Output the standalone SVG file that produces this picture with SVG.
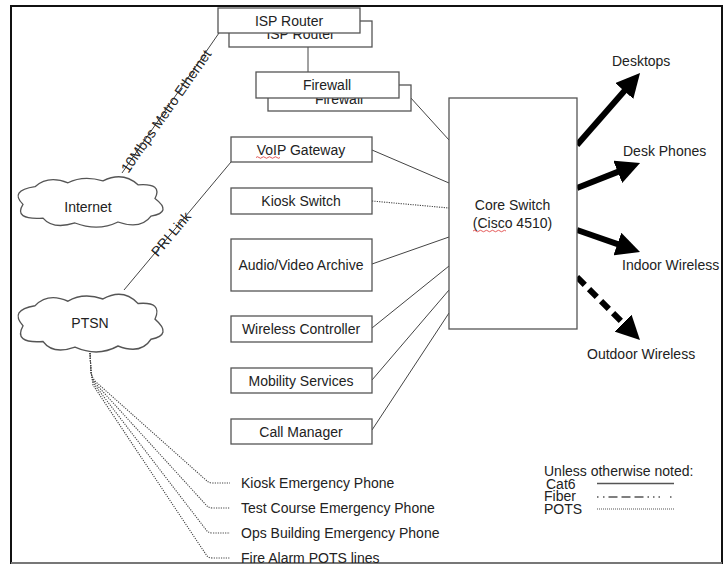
<svg xmlns="http://www.w3.org/2000/svg" width="728" height="565" viewBox="0 0 728 565">
<style>
text{font-family:"Liberation Sans",Arial,sans-serif;font-size:14px;fill:#222}
.c{text-anchor:middle}
.box{fill:#fff;stroke:#555;stroke-width:1.3}
.ln{fill:none;stroke:#444;stroke-width:1}
.dot{fill:none;stroke:#444;stroke-width:1.1;stroke-dasharray:1.2,1.2}
.cloud{fill:#fff;stroke:#555;stroke-width:1.3}
.big{fill:none;stroke:#000;stroke-width:6;marker-end:url(#ah)}
.sq{fill:none;stroke:#d33;stroke-width:0.8}
</style>
<defs>
<marker id="ah" viewBox="0 0 10 10" refX="2" refY="5" markerWidth="4" markerHeight="4" orient="auto" markerUnits="strokeWidth">
<path d="M0,0 L10,5 L0,10 z" fill="#000"/>
</marker>
<path id="cl" d="M22,14 Q35,2 55,10 Q70,2 90,8 Q110,-2 125,12 Q150,10 142,26 Q160,40 138,44 Q128,58 105,50 Q85,60 62,51 Q40,58 30,46 Q0,48 10,32 Q-4,18 22,14 Z"/>
</defs>
<rect x="11" y="6" width="711" height="557" fill="#fff" stroke="#111" stroke-width="2"/>
<line x1="11" y1="563" x2="722" y2="563" stroke="#777" stroke-width="2"/>

<g id="connectors">
<line class="ln" x1="122" y1="173" x2="219" y2="33"/>
<line class="ln" x1="124" y1="290" x2="231" y2="162"/>
<line class="ln" x1="308" y1="47" x2="308" y2="72"/>
<line class="ln" x1="410" y1="97" x2="449" y2="140"/>
<line class="ln" x1="372" y1="150" x2="449" y2="183"/>
<line class="dot" x1="372" y1="201" x2="449" y2="208"/>
<line class="ln" x1="372" y1="264" x2="449" y2="237"/>
<line class="ln" x1="372" y1="328" x2="449" y2="266"/>
<line class="ln" x1="372" y1="380" x2="449" y2="290"/>
<line class="ln" x1="372" y1="430" x2="449" y2="313"/>
<path class="dot" d="M90,353 L91,372 Q92,378 96,382 L207,481 Q209,483 213,483 L230,483"/>
<path class="dot" d="M90,353 L91,372 Q92,378 95,383 L207,506 Q209,508 213,508 L230,508"/>
<path class="dot" d="M90,353 L91,372 Q92,378 94,384 L207,531 Q209,533 213,533 L230,533"/>
<path class="dot" d="M90,353 L91,372 Q92,378 93,385 L207,556 Q209,558 213,558 L230,558"/>
<line class="big" x1="577" y1="145" x2="627.4" y2="87.4"/>
<line class="big" x1="577" y1="188" x2="622.2" y2="170.1"/>
<line class="big" x1="577" y1="230" x2="621.9" y2="245.7"/>
<line class="big" x1="577" y1="277" x2="626.4" y2="326.4" stroke-dasharray="11,6"/>
<text class="c" transform="translate(166,111) rotate(-55)" y="5">10Mbps Metro Ethernet</text>
<text class="c" transform="translate(171,234) rotate(-50)" y="5">PRI Link</text>
</g>

<g id="internet">
<use href="#cl" class="cloud" transform="translate(13,173) scale(1,0.98)"/>
<text class="c" x="88" y="212">Internet</text>
</g>
<g id="ptsn">
<use href="#cl" class="cloud" transform="translate(13,290) scale(1,1.12)"/>
<text class="c" x="90" y="328">PTSN</text>
</g>

<g id="isp-router">
<rect class="box" x="229" y="21" width="143" height="26"/>
<text class="c" x="300.5" y="39">ISP Router</text>
<rect class="box" x="218" y="8" width="142" height="25"/>
<text class="c" x="289" y="26">ISP Router</text>
</g>
<g id="firewall">
<rect class="box" x="268" y="85" width="143" height="26"/>
<text class="c" x="339" y="103.5">Firewall</text>
<rect class="box" x="256" y="72" width="143" height="26"/>
<text class="c" x="327" y="90">Firewall</text>
</g>
<g id="voip-gateway">
<rect class="box" x="231" y="137" width="141" height="25"/>
<text class="c" x="301" y="154.5">VoIP Gateway</text>
<path class="sq" d="M256,157.5 q1.5,-1.5 3,0 t3,0 t3,0 t3,0 t3,0 t3,0 t3,0 t3,0"/>
</g>
<g id="kiosk-switch">
<rect class="box" x="231" y="188" width="141" height="26"/>
<text class="c" x="301" y="206">Kiosk Switch</text>
</g>
<g id="av-archive">
<rect class="box" x="231" y="239" width="141" height="52"/>
<text class="c" x="301" y="270">Audio/Video Archive</text>
</g>
<g id="wireless-controller">
<rect class="box" x="231" y="316" width="141" height="26"/>
<text class="c" x="301" y="334">Wireless Controller</text>
</g>
<g id="mobility-services">
<rect class="box" x="231" y="368" width="141" height="25"/>
<text class="c" x="301" y="385.5">Mobility Services</text>
</g>
<g id="call-manager">
<rect class="box" x="231" y="419" width="141" height="25"/>
<text class="c" x="301" y="436.5">Call Manager</text>
</g>
<g id="core-switch">
<rect class="box" x="449" y="98" width="128" height="231"/>
<text class="c" x="512.5" y="210">Core Switch</text>
<text class="c" x="512.5" y="227.5">(Cisco 4510)</text>
<path class="sq" d="M473,231 q1.5,-1.5 3,0 t3,0 t3,0 t3,0 t3,0 t3,0 t3,0 t3,0 t3,0 t3,0 t3,0"/>
</g>
<g id="desktops"><text x="612" y="65.5">Desktops</text></g>
<g id="desk-phones"><text x="623" y="155.5">Desk Phones</text></g>
<g id="indoor-wireless"><text x="622" y="270">Indoor Wireless</text></g>
<g id="outdoor-wireless"><text x="587" y="359">Outdoor Wireless</text></g>
<g id="kiosk-phone"><text x="241" y="488">Kiosk Emergency Phone</text></g>
<g id="test-course-phone"><text x="241" y="513">Test Course Emergency Phone</text></g>
<g id="ops-building-phone"><text x="241" y="538">Ops Building Emergency Phone</text></g>
<g id="fire-alarm"><text x="241" y="563">Fire Alarm POTS lines</text></g>
<g id="legend">
<text x="544" y="475.5">Unless otherwise noted:</text>
<text x="546" y="488.5">Cat6</text>
<text x="544" y="501">Fiber</text>
<text x="544" y="513.5">POTS</text>
<line x1="597" y1="483.5" x2="674" y2="483.5" stroke="#555" stroke-width="1.3"/>
<line x1="597" y1="497" x2="674" y2="497" stroke="#555" stroke-width="1.3" stroke-dasharray="1.5,4.5,1.5,4,9,4,9,4,9,4,1.5,4,1.5,4,1.5,10"/>
<line x1="597" y1="509" x2="674" y2="509" stroke="#555" stroke-width="1.1" stroke-dasharray="1,1"/>
</g>
</svg>
